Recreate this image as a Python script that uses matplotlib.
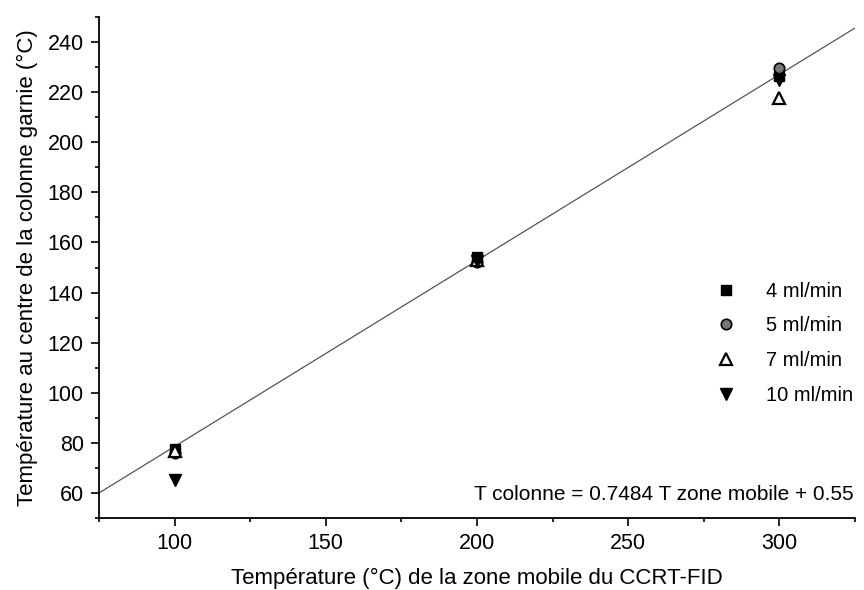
import matplotlib.pyplot as plt
from matplotlib.ticker import MultipleLocator
import numpy as np

# zone mobile temperature (°C)
x_temp = [100, 200, 300]
# column centre temperature for each flow rate
y_4ml = [77.6, 154.0, 226.5]
y_5ml = [75.8, 152.0, 229.5]
y_7ml = [76.6, 153.0, 217.5]
y_10ml = [65.0, 152.5, 225.0]

# linear fit as drawn on the chart
fit_slope = 0.7425
fit_intercept = 4.3
fit_label = "T colonne = 0.7484 T zone mobile + 0.55"

plt.rcParams['font.family'] = ['Liberation Sans', 'DejaVu Sans']
fs = 15

fig = plt.figure(figsize=(8.64, 5.90), dpi=100)
ax = fig.add_axes([99/864, 1 - 518/590, 756/864, 501/590])

xl = np.array([75, 325])
ax.plot(xl, fit_slope*xl + fit_intercept, color='#555555', lw=0.9, zorder=1)

ax.plot(x_temp, y_4ml, 's', ms=7.5, color='black', label='4 ml/min', zorder=3)
ax.plot(x_temp, y_5ml, 'o', ms=7.5, mfc='#777777', mec='black', mew=1.2, label='5 ml/min', zorder=3)
ax.plot(x_temp, y_7ml, '^', ms=8.5, mfc='white', mec='black', mew=1.6, label='7 ml/min', zorder=3)
ax.plot(x_temp, y_10ml, 'v', ms=8.5, color='black', label='10 ml/min', zorder=3)

ax.set_xlim(75, 325)
ax.set_ylim(50, 250)
ax.xaxis.set_major_locator(MultipleLocator(50))
ax.xaxis.set_minor_locator(MultipleLocator(25))
ax.yaxis.set_major_locator(MultipleLocator(20))
ax.yaxis.set_minor_locator(MultipleLocator(10))
ax.tick_params(which='major', direction='out', length=6, width=1.2, labelsize=15.5, pad=5)
ax.tick_params(which='minor', direction='out', length=3, width=1.2)
for s in ['top', 'right']:
    ax.spines[s].set_visible(False)
for s in ['left', 'bottom']:
    ax.spines[s].set_linewidth(1.3)

ax.set_xlabel("Température (°C) de la zone mobile du CCRT-FID", fontsize=16, labelpad=10)
ax.set_ylabel("Température au centre de la colonne garnie (°C)", fontsize=16, labelpad=7)

ax.legend(loc='upper left', bbox_to_anchor=(0.792, 0.488), frameon=False, fontsize=14.5,
          handletextpad=1.0, labelspacing=0.78, numpoints=1, borderaxespad=0)

ax.text(0.998, 0.046, fit_label, transform=ax.transAxes, ha='right', va='center', fontsize=fs)

fig.savefig('out.png', dpi=100)
